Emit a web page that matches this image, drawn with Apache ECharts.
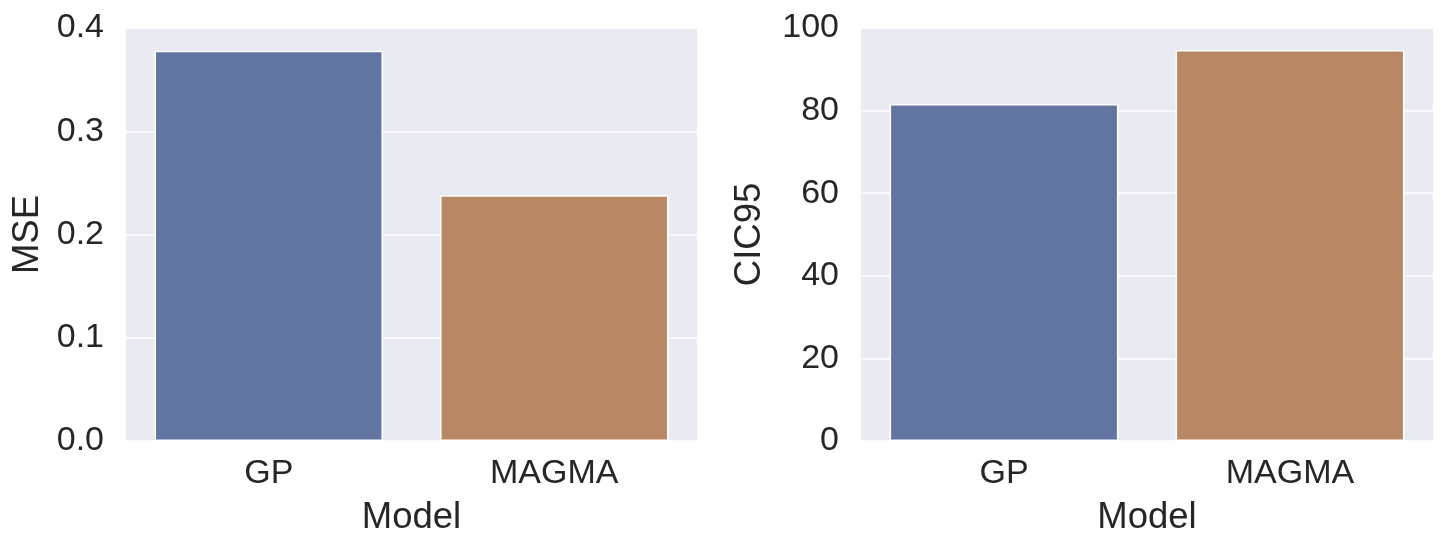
<!DOCTYPE html>
<html>
<head>
<meta charset="utf-8">
<script src="https://cdn.jsdelivr.net/npm/echarts@6/dist/echarts.min.js"></script>
<style>
html,body{margin:0;padding:0;background:#fff;}
#chart{width:1448px;height:551px;}
</style>
</head>
<body>
<div id="chart"></div>
<script>
const categories = ['GP', 'MAGMA'];
const mseValues = [0.378, 0.238];
const cic95Values = [81.6, 94.7];
const barColors = ['#6275a0', '#b88864'];

const FONT = '"Liberation Sans", Arial, sans-serif';
const TXT = '#262626';
const BG = '#eaeaf2';

function xAxisFor(gridIndex) {
  return {
    type: 'category', gridIndex: gridIndex, data: categories,
    boundaryGap: true,
    axisLine: {show: false}, axisTick: {show: false},
    axisLabel: {color: TXT, fontSize: 34, fontFamily: FONT, margin: 16},
    splitLine: {show: false},
    name: 'Model', nameLocation: 'middle', nameGap: 58,
    nameTextStyle: {color: TXT, fontSize: 36.5, fontFamily: FONT}
  };
}
function yAxisFor(gridIndex, name, max, interval, fmt, gap) {
  return {
    type: 'value', gridIndex: gridIndex, min: 0, max: max, interval: interval,
    axisLine: {show: false}, axisTick: {show: false},
    axisLabel: {color: TXT, fontSize: 34, fontFamily: FONT, margin: 22, formatter: fmt},
    splitLine: {show: true, lineStyle: {color: '#ffffff', width: 1.5}},
    name: name, nameLocation: 'middle', nameGap: gap, nameRotate: 90,
    nameTextStyle: {color: TXT, fontSize: 36.5, fontFamily: FONT}
  };
}
function barData(vals) {
  return vals.map((v, i) => ({value: v, itemStyle: {color: barColors[i]}}));
}

const chart = echarts.init(document.getElementById('chart'), null, {renderer: 'canvas'});
chart.setOption({
  animation: false,
  grid: [
    {left: 126, top: 28, width: 571, height: 413, show: true, backgroundColor: BG, borderWidth: 0},
    {left: 861, top: 28, width: 572, height: 413, show: true, backgroundColor: BG, borderWidth: 0}
  ],
  xAxis: [xAxisFor(0), xAxisFor(1)],
  yAxis: [
    yAxisFor(0, 'MSE', 0.4, 0.1, v => v.toFixed(1), 80),
    yAxisFor(1, 'CIC95', 100, 20, v => String(v), 93)
  ],
  series: [
    {type: 'bar', xAxisIndex: 0, yAxisIndex: 0, data: barData(mseValues),
     barCategoryGap: '20%', itemStyle: {borderColor: '#ffffff', borderWidth: 1.5}},
    {type: 'bar', xAxisIndex: 1, yAxisIndex: 1, data: barData(cic95Values),
     barCategoryGap: '20%', itemStyle: {borderColor: '#ffffff', borderWidth: 1.5}}
  ]
});
</script>
</body>
</html>
